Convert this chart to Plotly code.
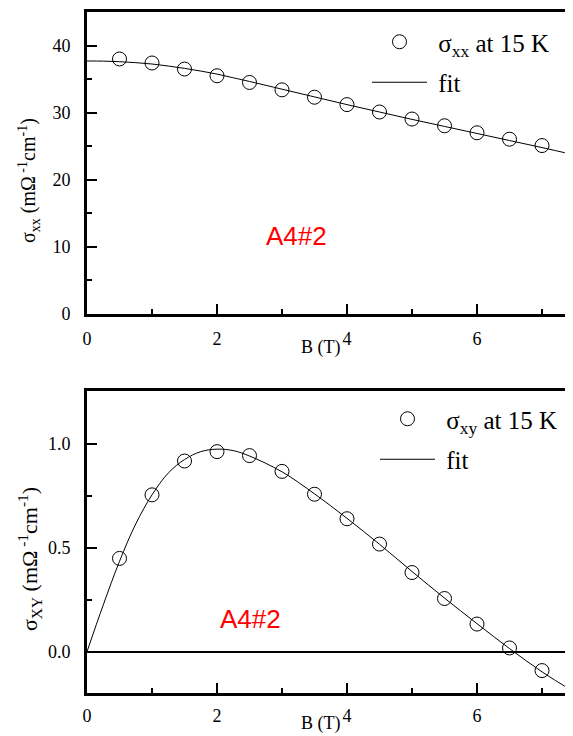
import plotly.graph_objects as go

# ---- data ----
B_data = [0.5, 1.0, 1.5, 2.0, 2.5, 3.0, 3.5, 4.0, 4.5, 5.0, 5.5, 6.0, 6.5, 7.0]
sxx_data = [38.0, 37.4, 36.5, 35.5, 34.5, 33.4, 32.3, 31.2, 30.1, 29.05, 28.05, 27.0, 26.05, 25.1]
sxy_data = [0.449, 0.755, 0.918, 0.963, 0.944, 0.868, 0.758, 0.640, 0.518, 0.381, 0.256, 0.133, 0.018, -0.091]

B_fit = [0.0, 0.25, 0.5, 0.75, 1.0, 1.25, 1.5, 1.75, 2.0, 2.25, 2.5, 3.0, 3.5, 4.0, 4.5, 5.0, 5.5, 6.0, 6.5, 7.0, 7.5]
sxx_fit = [37.7, 37.68, 37.6, 37.45, 37.25, 36.95, 36.6, 36.2, 35.75, 35.2, 34.65, 33.5, 32.35, 31.2, 30.1, 29.0, 27.95, 26.9, 25.85, 24.8, 23.7]
sxy_fit = [0.0, 0.225, 0.435, 0.615, 0.755, 0.86, 0.925, 0.963, 0.975, 0.968, 0.942, 0.866, 0.76, 0.642, 0.517, 0.386, 0.258, 0.135, 0.015, -0.097, -0.195]

x_ticks = [0, 2, 4, 6]
yxx_ticks = [0, 10, 20, 30, 40]
yxy_ticks = [0.0, 0.5, 1.0]
yxy_ticklabels = ["0.0", "0.5", "1.0"]

W, H = 573, 736
OFF = 8  # page body margin
SERIF = "Liberation Serif, Times New Roman, serif"


def px(v):
    return (v - OFF) / W


def py(v):
    return 1 - (v - OFF) / H


fig = go.Figure()

# top panel
fig.add_trace(go.Scatter(x=B_data, y=sxx_data, mode="markers",
                         marker=dict(symbol="circle-open", size=14, color="black", line=dict(width=1)),
                         name="\u00a0σ<sub>xx</sub> at 15 K", xaxis="x", yaxis="y", legend="legend", legendgroup="a"))
fig.add_trace(go.Scatter(x=B_fit, y=sxx_fit, mode="lines", line=dict(color="black", width=1, shape="spline"),
                         name="\u00a0fit", xaxis="x", yaxis="y", legend="legend", legendgroup="b"))
# bottom panel
fig.add_trace(go.Scatter(x=B_data, y=sxy_data, mode="markers",
                         marker=dict(symbol="circle-open", size=14, color="black", line=dict(width=1)),
                         name="\u00a0σ<sub>xy</sub> at 15 K", xaxis="x2", yaxis="y2", legend="legend2", legendgroup="c"))
fig.add_trace(go.Scatter(x=B_fit, y=sxy_fit, mode="lines", line=dict(color="black", width=1, shape="spline"),
                         name="\u00a0fit", xaxis="x2", yaxis="y2", legend="legend2", legendgroup="d"))

xdom = [px(87), 1]
top_dom = [py(314), py(12)]
bot_dom = [py(692.6), py(391)]
xmax = (W + OFF - 87) / 65.0

xaxis_common = dict(range=[0, xmax], showline=True, linewidth=3, linecolor="black", mirror=True,
                    ticks="inside", ticklen=10, tickwidth=2, tickcolor="black",
                    tickvals=x_ticks, ticktext=[str(v) for v in x_ticks],
                    minor=dict(ticks="inside", ticklen=5, tickwidth=2, tickcolor="black", dtick=1),
                    showgrid=False, zeroline=False, automargin=False,
                    tickfont=dict(family=SERIF, size=18, color="black"))
yaxis_common = dict(showline=True, linewidth=3, linecolor="black",
                    ticks="inside", ticklen=10, tickwidth=2, tickcolor="black",
                    showgrid=False, ticklabelstandoff=10, automargin=False,
                    tickfont=dict(family=SERIF, size=18, color="black"))

legend_common = dict(xanchor="left", yanchor="top", bgcolor="rgba(0,0,0,0)",
                     font=dict(family=SERIF, size=25, color="black"), itemwidth=55,
                     tracegroupgap=5, traceorder="grouped")

fig.update_layout(
    width=W, height=H, margin=dict(l=0, r=0, t=0, b=0, autoexpand=False),
    paper_bgcolor="white", plot_bgcolor="white",
    xaxis=dict(domain=xdom, anchor="y", ticklabelstandoff=6, **xaxis_common),
    yaxis=dict(domain=top_dom, anchor="x", range=[0, 45], tickvals=yxx_ticks,
               minor=dict(ticks="inside", ticklen=5, tickwidth=2, tickcolor="black", dtick=5),
               zeroline=False, **yaxis_common),
    xaxis2=dict(domain=xdom, anchor="y2", ticklabelstandoff=5, **xaxis_common),
    yaxis2=dict(domain=bot_dom, anchor="x2", range=[-0.197, 1.255], tickvals=yxy_ticks, ticktext=yxy_ticklabels,
                minor=dict(ticks="inside", ticklen=5, tickwidth=2, tickcolor="black", tickvals=[0.25, 0.75]),
                zeroline=True, zerolinecolor="black", zerolinewidth=2, **yaxis_common),
    legend=dict(x=px(367), y=py(19), **legend_common),
    legend2=dict(x=px(375), y=py(396), **legend_common),
    showlegend=True,
)

ann = []
ytitle_top = "σ<sub>xx</sub> (mΩ<sup> -1</sup>cm<sup>-1</sup>)"
ytitle_bot = "σ<sub>XY</sub> (mΩ<sup> -1</sup>cm<sup>-1</sup>)"
ann.append(dict(text=ytitle_top, x=px(29), y=py(181), xref="paper", yref="paper", textangle=-90,
                showarrow=False, xanchor="center", yanchor="middle", font=dict(family=SERIF, size=20, color="black")))
ann.append(dict(text=ytitle_bot, x=px(29), y=py(559), xref="paper", yref="paper", textangle=-90,
                showarrow=False, xanchor="center", yanchor="middle", font=dict(family=SERIF, size=22, color="black")))
ann.append(dict(text="B (T)", x=px(321), y=py(347), xref="paper", yref="paper", showarrow=False,
                xanchor="center", yanchor="middle", font=dict(family=SERIF, size=18, color="black")))
ann.append(dict(text="B (T)", x=px(321), y=py(723), xref="paper", yref="paper", showarrow=False,
                xanchor="center", yanchor="middle", font=dict(family=SERIF, size=18, color="black")))
ann.append(dict(text="A4#2", x=3.23, y=11.6, xref="x", yref="y", showarrow=False,
                xanchor="center", yanchor="middle", font=dict(family="Liberation Sans, Arial, sans-serif", size=26, color="red")))
ann.append(dict(text="A4#2", x=2.52, y=0.159, xref="x2", yref="y2", showarrow=False,
                xanchor="center", yanchor="middle", font=dict(family="Liberation Sans, Arial, sans-serif", size=26, color="red")))
fig.update_layout(annotations=ann)

fig.write_html("out.html")
